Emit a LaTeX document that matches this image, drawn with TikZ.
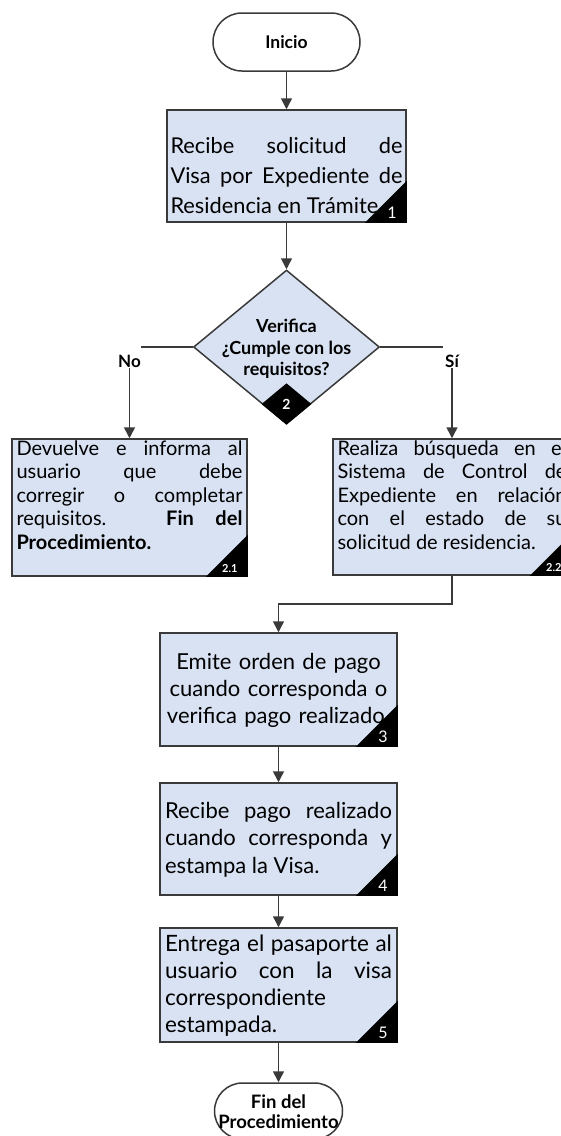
\documentclass[tikz,border=0pt]{standalone}
\usepackage{fontspec}
\setmainfont{Lato}
\usepackage{tikz}
\usetikzlibrary{calc}
\usetikzlibrary{arrows.meta,shapes.geometric,shapes.misc}
\usetikzlibrary{positioning}
\definecolor{cajaazul}{RGB}{217,226,243}
\definecolor{borde}{RGB}{58,58,58}
\newcommand{\esquina}[3][\fontsize{16}{16}\selectfont]{%
  \fill[black] (#2.south east) -- ++(-42,0) -- ++(42,42) -- cycle;
  \node[numero,font=#1] (#2n) at ($(#2.south east)+(-10,4)$) {#3};}

\begin{document}
\begin{tikzpicture}[x=1pt,y=1pt,
    caja/.style={draw=borde,line width=1.5pt,fill=cajaazul,inner xsep=5pt,inner ysep=0pt,align=justify},
    terminal/.style={rounded rectangle,draw=borde,line width=1.5pt,fill=white,inner sep=0pt},
    flecha/.style={draw=borde,line width=1.5pt,-{Triangle[length=11pt,width=11pt]}},
    linea/.style={draw=borde,line width=1.5pt},
    numero/.style={text=white,anchor=south east,inner sep=0pt},
    etiqueta/.style={font=\bfseries\fontsize{17}{17}\selectfont,inner sep=1pt}]
  \fill[white] (0,0) rectangle (560,-1136);
  \useasboundingbox (0,0) rectangle (560,-1136);

  \node[terminal,minimum width=147pt,minimum height=58pt,font=\bfseries\fontsize{17.5}{20}\selectfont] (ini) at (286.5,-42) {Inicio};

  \node[caja,inner xsep=3.5pt,text width=232pt,text height=43pt,text depth=69pt,
    font=\fontsize{21.8}{30}\selectfont] (b1) at (286.5,-166)
    {Recibe solicitud de\linebreak Visa por Expediente de\linebreak Residencia en Trámite};
  \esquina{b1}{1}

  % decision
  \node[diamond,draw=borde,line width=1.5pt,fill=cajaazul,minimum width=186pt,
    minimum height=154pt,inner sep=0pt] (dec) at (286.5,-347) {};
  \node[diamond,draw=black,fill=black,line width=1.5pt,minimum width=48pt,minimum height=40pt,
    inner sep=0pt,anchor=south,text=white,font=\bfseries\fontsize{14}{14}\selectfont] (dec2) at (dec.south) {2};
  \node[align=center,inner sep=0pt,font=\bfseries\fontsize{18}{21.5}\selectfont] (dect) at (286.5,-349)
    {Verifica\\¿Cumple con los\\requisitos?};
  \node[etiqueta] (no) at (129.5,-361) {No};
  \node[etiqueta] (si) at (452,-361) {Sí};
  \coordinate (noext) at (141,-347);
  \coordinate (siext) at (443,-347);

  \node[caja,inner xsep=4.5pt,text width=226pt,text height=16pt,text depth=121pt,
    font=\fontsize{20}{23.5}\selectfont] (b21) at (129.5,-507.5)
    {Devuelve e informa al\linebreak usuario que debe\linebreak corregir o completar\linebreak
     requisitos. \textbf{Fin del}\linebreak \textbf{Procedimiento.}};
  \esquina[\bfseries\fontsize{11}{11}\selectfont]{b21}{2.1}

  \node[caja,inner xsep=4.5pt,text width=229pt,text height=16pt,text depth=120pt,
    font=\fontsize{20}{23.5}\selectfont] (b22) at (452,-507)
    {Realiza búsqueda en el\linebreak Sistema de Control de\linebreak Expediente en relación\linebreak
     con el estado de su\linebreak solicitud de residencia.};
  \esquina[\bfseries\fontsize{11}{11}\selectfont]{b22}{2.2}

  \node[caja,align=center,text width=227pt,text height=36pt,text depth=77pt,
    font=\fontsize{22}{27}\selectfont] (b3) at (278.5,-689.5)
    {Emite orden de pago\\ cuando corresponda o\\ verifica pago realizado.};
  \esquina{b3}{3}

  \node[caja,text width=227pt,text height=35pt,text depth=77pt,
    font=\fontsize{22}{27.5}\selectfont] (b4) at (278.5,-839)
    {Recibe pago realizado\linebreak cuando corresponda y\linebreak estampa la Visa.};
  \esquina{b4}{4}

  \node[caja,text width=227pt,text height=23pt,text depth=91pt,
    font=\fontsize{22.5}{27}\selectfont] (b5) at (278.5,-985)
    {Entrega el pasaporte al\linebreak usuario con la visa\linebreak correspondiente\newline estampada.};
  \esquina{b5}{5}

  \node[terminal,minimum width=128pt,minimum height=56pt] (fin) at (278.5,-1111) {};
  \node[align=center,inner sep=0pt,font=\bfseries\fontsize{18.5}{20}\selectfont] (fint) at (278.5,-1112)
    {Fin del\\Procedimiento};

  % conectores
  \draw[flecha] (ini.south) -- (b1.north);
  \draw[flecha] (b1.south) -- (dec.north);
  \draw[linea] (dec.west) -- (noext);
  \draw[linea] (dec.east) -- (siext);
  \draw[flecha] (no.south) -- (b21.north);
  \draw[flecha] (si.south) -- (b22.north);
  \draw[flecha] (b22.south) -- ++(0,-28) -| (b3.north);
  \draw[flecha] (b3.south) -- (b4.north);
  \draw[flecha] (b4.south) -- (b5.north);
  \draw[flecha] (b5.south) -- (fin.north);
\end{tikzpicture}
\end{document}
